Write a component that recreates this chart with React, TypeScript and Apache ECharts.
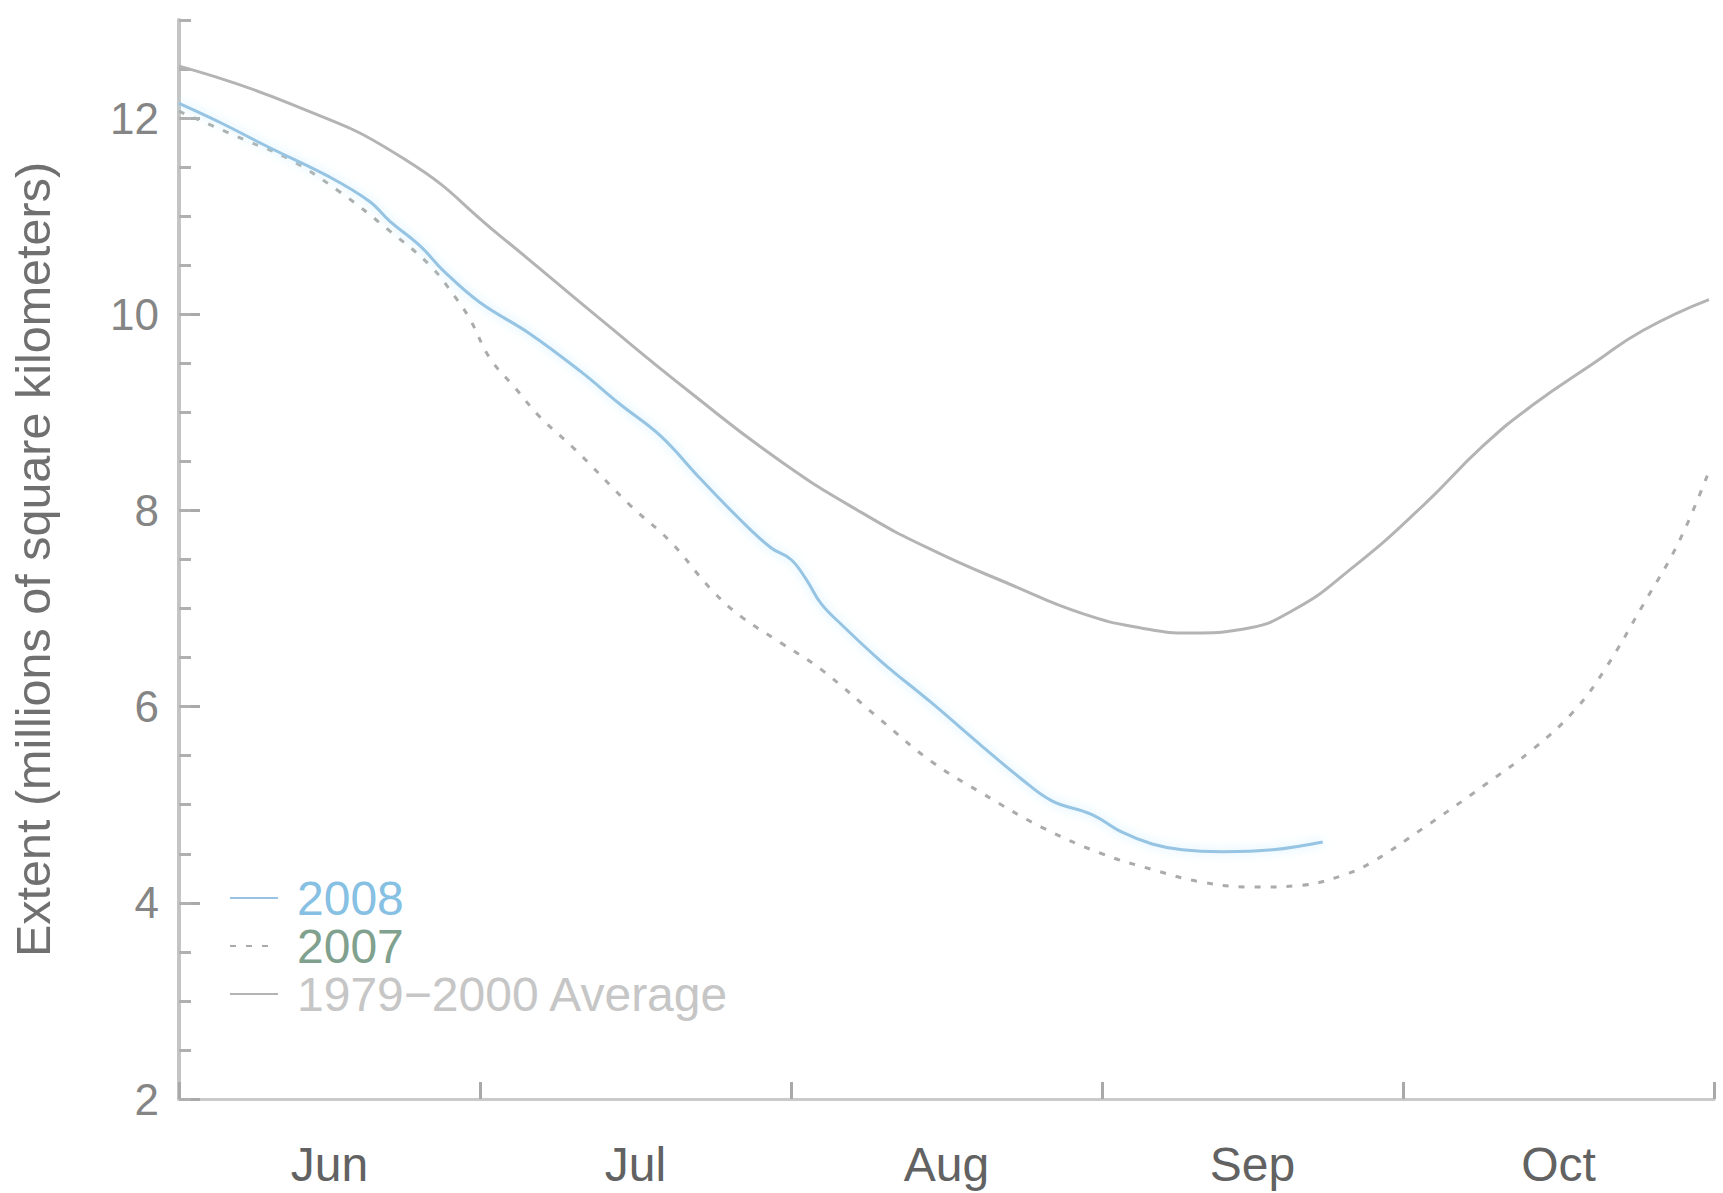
import React, { useEffect, useRef } from 'react';
import * as echarts from 'echarts';

// Time axis: days counted from June 1
const monthNames = ['Jun', 'Jul', 'Aug', 'Sep', 'Oct'];
const monthBoundaries = [0, 30, 61, 92, 122, 153];
const monthCenters = [15, 45.5, 76.5, 107, 137.5];

// Extent axis ticks (millions of km²)
const majorTicks = [2, 4, 6, 8, 10, 12];
const minorTicks = [2, 2.5, 3, 3.5, 4, 4.5, 5, 5.5, 6, 6.5, 7, 7.5, 8, 8.5, 9, 9.5, 10, 10.5, 11, 11.5, 12, 12.5, 13];

// 1979–2000 average
const avgDays = [0, 11, 22.5, 32, 42, 51, 60, 68, 75, 83, 90, 96, 101, 106, 111, 117, 124, 130, 135, 141, 146, 152.5];
const avgExtent = [12.53, 12.15, 11.58, 10.8, 9.95, 9.2, 8.5, 7.98, 7.6, 7.24, 6.95, 6.8, 6.75, 6.79, 6.98, 7.42, 8.05, 8.66, 9.08, 9.5, 9.84, 10.15];

// 2008
const days2008 = [0, 4, 9, 15, 19, 21, 24, 26.5, 30, 35, 40, 44, 48, 52, 56, 59, 61, 62.5, 64, 66, 70, 75, 80, 84, 87, 91, 94, 97, 100, 104, 109, 114];
const extent2008 = [12.15, 11.96, 11.7, 11.4, 11.15, 10.95, 10.7, 10.43, 10.12, 9.8, 9.42, 9.08, 8.76, 8.32, 7.9, 7.62, 7.5, 7.3, 7.05, 6.84, 6.46, 6.04, 5.6, 5.26, 5.04, 4.9, 4.72, 4.6, 4.54, 4.52, 4.54, 4.62];

// 2007
const days2007 = [0, 6.5, 11, 16, 21, 25, 27.5, 29, 31, 33.5, 36, 39.5, 45, 49, 53, 56, 60, 64, 70, 75, 80, 86, 92, 97, 102, 107, 112, 116, 119, 124, 130, 135, 139, 142, 146, 149.5, 152.5];
const extent2007 = [12.07, 11.78, 11.58, 11.25, 10.85, 10.5, 10.18, 9.95, 9.55, 9.25, 8.95, 8.62, 8.05, 7.68, 7.2, 6.92, 6.65, 6.38, 5.86, 5.44, 5.12, 4.77, 4.5, 4.34, 4.21, 4.16, 4.18, 4.28, 4.42, 4.76, 5.19, 5.57, 5.95, 6.36, 7.05, 7.68, 8.4];

const zip = (xs: number[], ys: number[]) => xs.map((x, i) => [x, ys[i]]);

const FONT = '"Liberation Sans", Arial, Helvetica, sans-serif';

export default function App() {
  const ref = useRef<HTMLDivElement>(null);

  useEffect(() => {
    if (!ref.current) return;
    const chart = echarts.init(ref.current, undefined, { renderer: 'svg' });

    const option: any = {
      animation: false,
      backgroundColor: '#ffffff',
      grid: { left: 179, right: 9, top: 20, bottom: 94, outerBoundsMode: 'none', containLabel: false },
      legend: {
        orient: 'vertical',
        left: 224,
        top: 869,
        itemWidth: 48,
        itemHeight: 20,
        itemGap: 0,
        selectedMode: false,
        itemStyle: { opacity: 0 },
        textStyle: { fontFamily: FONT, fontSize: 48, lineHeight: 48, padding: [0, 0, 0, 14] },
        data: [
          { name: '2008', textStyle: { color: '#86c0e3' } },
          { name: '2007', textStyle: { color: '#80a18e' } },
          { name: '1979\u22122000 Average', textStyle: { color: '#c6c6c6' } },
        ],
      },
      xAxis: {
        type: 'value',
        min: 0,
        max: 153,
        axisLine: { show: true, lineStyle: { color: '#cacaca', width: 3 } },
        axisTick: {
          show: true,
          customValues: monthBoundaries,
          inside: true,
          length: 17,
          lineStyle: { color: '#a9a9a9', width: 3 },
        },
        axisLabel: {
          customValues: monthCenters,
          formatter: (v: number) => monthNames[monthCenters.indexOf(v)] ?? '',
          fontFamily: FONT,
          fontSize: 48,
          lineHeight: 48,
          color: '#626262',
          margin: 41,
        },
        splitLine: { show: false },
      },
      yAxis: [
        {
          type: 'value',
          min: 2,
          max: 13,
          position: 'left',
          name: 'Extent (millions of square kilometers)',
          nameLocation: 'middle',
          nameGap: 122,
          nameTextStyle: { fontFamily: FONT, fontSize: 48.5, color: '#707070' },
          axisLine: { show: true, lineStyle: { color: '#c4c4c4', width: 4 } },
          axisTick: {
            show: true,
            customValues: majorTicks,
            inside: true,
            length: 21,
            lineStyle: { color: '#a9a9a9', width: 3 },
          },
          axisLabel: {
            customValues: majorTicks,
            fontFamily: FONT,
            fontSize: 44,
            color: '#858585',
            margin: 20,
          },
          splitLine: { show: false },
        },
        {
          type: 'value',
          min: 2,
          max: 13,
          position: 'left',
          offset: 0,
          axisLine: { show: false },
          axisTick: {
            show: true,
            customValues: minorTicks,
            inside: true,
            length: 12,
            lineStyle: { color: '#b0b0b0', width: 3 },
          },
          axisLabel: { show: false },
          splitLine: { show: false },
        },
      ],
      series: [
        {
          name: '1979\u22122000 Average',
          type: 'line',
          data: zip(avgDays, avgExtent),
          smooth: 0.5,
          symbol: 'none',
          lineStyle: { color: '#b4b4b4', width: 3 },
          itemStyle: { color: '#b4b4b4' },
          z: 2,
        },
        {
          name: '2007',
          type: 'line',
          data: zip(days2007, extent2007),
          smooth: 0.4,
          symbol: 'none',
          lineStyle: { color: '#a9aca9', width: 3, type: [6, 10] },
          itemStyle: { color: '#a9aca9' },
          z: 3,
        },
        {
          name: '2008',
          type: 'line',
          data: zip(days2008, extent2008),
          smooth: 0.4,
          symbol: 'none',
          lineStyle: {
            color: '#96c4e2',
            width: 3,
            shadowColor: 'rgba(190, 235, 255, 0.9)',
            shadowBlur: 10,
          },
          itemStyle: { color: '#96c4e2' },
          z: 4,
        },
      ],
    };

    chart.setOption(option);
    return () => chart.dispose();
  }, []);

  return (
    <div
      ref={ref}
      style={{ position: 'fixed', left: 0, top: 0, width: 1723, height: 1193, background: '#fff' }}
    />
  );
}
